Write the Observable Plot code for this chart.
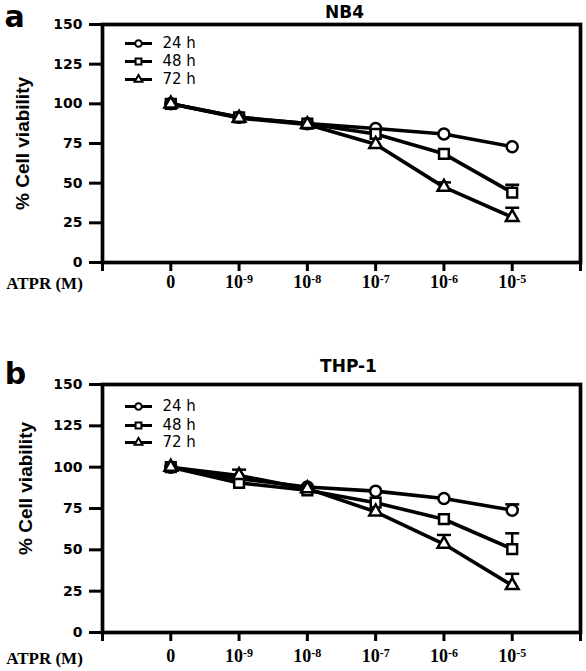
<!DOCTYPE html>
<html>
<head>
<meta charset="utf-8">
<script src="https://cdn.jsdelivr.net/npm/d3@7"></script>
<script src="https://cdn.jsdelivr.net/npm/@observablehq/plot@0.6"></script>
<style>
  html, body { margin: 0; padding: 0; background: #fff; }
  svg { display: block; }
</style>
</head>
<body>
<div id="chart"></div>
<script>
// ---- Data ----
const concentrations = ["0", "10-9", "10-8", "10-7", "10-6", "10-5"];
const xTickLabels = ["", "0", "10-9", "10-8", "10-7", "10-6", "10-5", ""];
const yTicks = [0, 25, 50, 75, 100, 125, 150];
const seriesNames = ["24 h", "48 h", "72 h"];
const xAxisTitle = "ATPR (M)";
const yAxisTitle = "% Cell viability";

// NB4 (panel a)
const nb4_24h = [100, 91.5, 87.5, 84.5, 81, 73];
const nb4_48h = [100, 91.5, 87.5, 81, 68.5, 44];
const nb4_72h = [100, 91, 87, 74.5, 47.5, 28.5];
const nb4_24h_err = [0, 0, 0, 0, 0, 0];
const nb4_48h_err = [0, 0, 0, 0, 0, 5];
const nb4_72h_err = [0, 0, 0, 0, 3, 6];

// THP-1 (panel b)
const thp1_24h = [100, 93, 88, 85.5, 81, 74];
const thp1_48h = [100, 90.5, 86, 78.5, 68.5, 50.5];
const thp1_72h = [100, 95, 87, 73, 53.5, 28.5];
const thp1_24h_err = [0, 0, 0, 0, 0, 3.5];
const thp1_48h_err = [0, 0, 0, 0, 0, 9.5];
const thp1_72h_err = [0, 3.5, 0, 0, 5.5, 7];

// ---- Helpers ----
function toRows(values, errors) {
  const rows = [];
  values.forEach((vals, s) => {
    vals.forEach((v, i) => {
      rows.push({
        series: seriesNames[s],
        s,
        pos: xTickLabels.indexOf(concentrations[i]),
        value: v,
        err: errors[s][i],
        top: v + errors[s][i]
      });
    });
  });
  return rows;
}

const markerSymbols = ["circle", "square", "triangle"];
const markerR = [5.5, 5.5, 4.7];
const legendR = [3.3, 3.3, 2.9];
const capSymbol = { draw(ctx) { ctx.moveTo(-7, 0); ctx.lineTo(7, 0); } };
const legendLineSymbol = { draw(ctx) { ctx.moveTo(-13.5, 0); ctx.lineTo(13.5, 0); } };

function panel(cfg) {
  const rows = toRows(cfg.values, cfg.errors);
  const errRows = rows.filter(d => d.err > 0);
  const legendMarks = [];
  seriesNames.forEach((name, i) => {
    legendMarks.push(
      Plot.dot([name], {frameAnchor: "top-left", dx: 36, dy: cfg.legendDy[i], symbol: legendLineSymbol, r: 1, stroke: "black", fill: "none", strokeWidth: 3}),
      Plot.dot([name], {frameAnchor: "top-left", dx: 36, dy: cfg.legendDy[i], symbol: markerSymbols[i], r: legendR[i], stroke: "black", fill: "white", strokeWidth: 2}),
      Plot.text([name], {frameAnchor: "top-left", dx: 60, dy: cfg.legendDy[i], text: d => d, textAnchor: "start", lineAnchor: "middle", fontSize: 15, fontFamily: "DejaVu Sans", fill: "black"})
    );
  });

  const svg = Plot.plot({
    width: 586,
    height: cfg.height,
    marginTop: cfg.marginTop,
    marginBottom: cfg.marginBottom,
    marginLeft: 102,
    marginRight: 6,
    style: {fontFamily: "DejaVu Sans", color: "black", background: "white", overflow: "visible"},
    x: {domain: [0, 7]},
    y: {domain: [0, 150]},
    marks: [
      Plot.axisY({ticks: yTicks, tickSize: 13, tickPadding: 7, strokeWidth: 3, fontSize: 14, fontWeight: "bold", fontFamily: "DejaVu Sans", label: null}),
      Plot.axisX({ticks: d3.range(xTickLabels.length), tickFormat: i => xTickLabels[i], tickSize: 9, tickPadding: cfg.xTickPadding, strokeWidth: 3, fontSize: 18, fontWeight: "bold", fontFamily: "Liberation Serif", label: null}),
      Plot.frame({strokeWidth: 3.7}),
      Plot.line(rows, {x: "pos", y: "value", z: "series", stroke: "black", strokeWidth: 3.6}),
      Plot.ruleX(errRows, {x: "pos", y1: "value", y2: "top", stroke: "black", strokeWidth: 2.5}),
      Plot.dot(errRows, {x: "pos", y: "top", symbol: capSymbol, r: 1, stroke: "black", fill: "none", strokeWidth: 2.5}),
      ...markerSymbols.map((sym, i) =>
        Plot.dot(rows.filter(d => d.s === i), {x: "pos", y: "value", symbol: sym, r: markerR[i], stroke: "black", fill: "white", strokeWidth: 2.5})
      ),
      ...legendMarks,
      Plot.text([cfg.title], {frameAnchor: "top", dx: cfg.titleDx, dy: cfg.titleDy, text: d => d, textAnchor: "middle", lineAnchor: "middle", fontSize: 17, fontWeight: "bold", fontFamily: "DejaVu Sans", ariaLabel: "panel-title"}),
      Plot.text([cfg.letter], {frameAnchor: "top-left", dx: cfg.letterDx, dy: cfg.letterDy, text: d => d, textAnchor: "middle", lineAnchor: "middle", fontSize: 30, fontWeight: "bold", fontFamily: "DejaVu Sans"}),
      Plot.text([yAxisTitle], {frameAnchor: "left", dx: cfg.yLabelDx, dy: cfg.yLabelDy, rotate: -90, text: d => d, textAnchor: "middle", lineAnchor: "middle", fontSize: 19, fontWeight: "bold", fontFamily: "Liberation Sans", ariaLabel: "y-title"}),
      Plot.text([xAxisTitle], {frameAnchor: "bottom-left", dx: -58, dy: cfg.xTitleDy, text: d => d, textAnchor: "middle", lineAnchor: "middle", fontSize: 17, fontWeight: "bold", fontFamily: "Liberation Serif"})
    ]
  });

  const s = d3.select(svg);
  s.selectAll('g[aria-label="y-axis tick label"]').attr("font-size", "14px").attr("font-weight", "bold").attr("font-family", "DejaVu Sans");
  s.selectAll('g[aria-label="x-axis tick label"]').attr("font-size", "18px").attr("font-weight", "bold").attr("font-family", "Liberation Serif");
  // superscript exponents on the x tick labels
  s.selectAll('g[aria-label="x-axis tick label"] text').each(function () {
    const t = this.textContent;
    const m = t.match(/^10(-\d+)$/);
    if (m) {
      this.textContent = "10";
      d3.select(this).append("tspan").attr("dy", "-0.4em").attr("font-size", "12px").text(m[1]);
    }
  });
  s.selectAll('g[aria-label="panel-title"] text').style("letter-spacing", "2px");
  // condensed y-axis title, as in the original
  s.selectAll('g[aria-label="y-title"] text').attr("textLength", 108).attr("lengthAdjust", "spacingAndGlyphs");
  return svg;
}

const chart = document.getElementById("chart");
chart.appendChild(panel({
  height: 300, marginTop: 24, marginBottom: 38,
  values: [nb4_24h, nb4_48h, nb4_72h],
  errors: [nb4_24h_err, nb4_48h_err, nb4_72h_err],
  legendDy: [19, 37, 55],
  title: "NB4", titleDx: 3, titleDy: -12,
  letter: "a", letterDx: -88, letterDy: -7,
  yLabelDx: -80, yLabelDy: 0,
  xTickPadding: 4, xTitleDy: 21
}));
chart.appendChild(panel({
  height: 371, marginTop: 84, marginBottom: 39,
  values: [thp1_24h, thp1_48h, thp1_72h],
  errors: [thp1_24h_err, thp1_48h_err, thp1_72h_err],
  legendDy: [22, 41, 58],
  title: "THP-1", titleDx: 7, titleDy: -18,
  letter: "b", letterDx: -87, letterDy: -10,
  yLabelDx: -77, yLabelDy: -20,
  xTickPadding: 8, xTitleDy: 26
}));
</script>
</body>
</html>
